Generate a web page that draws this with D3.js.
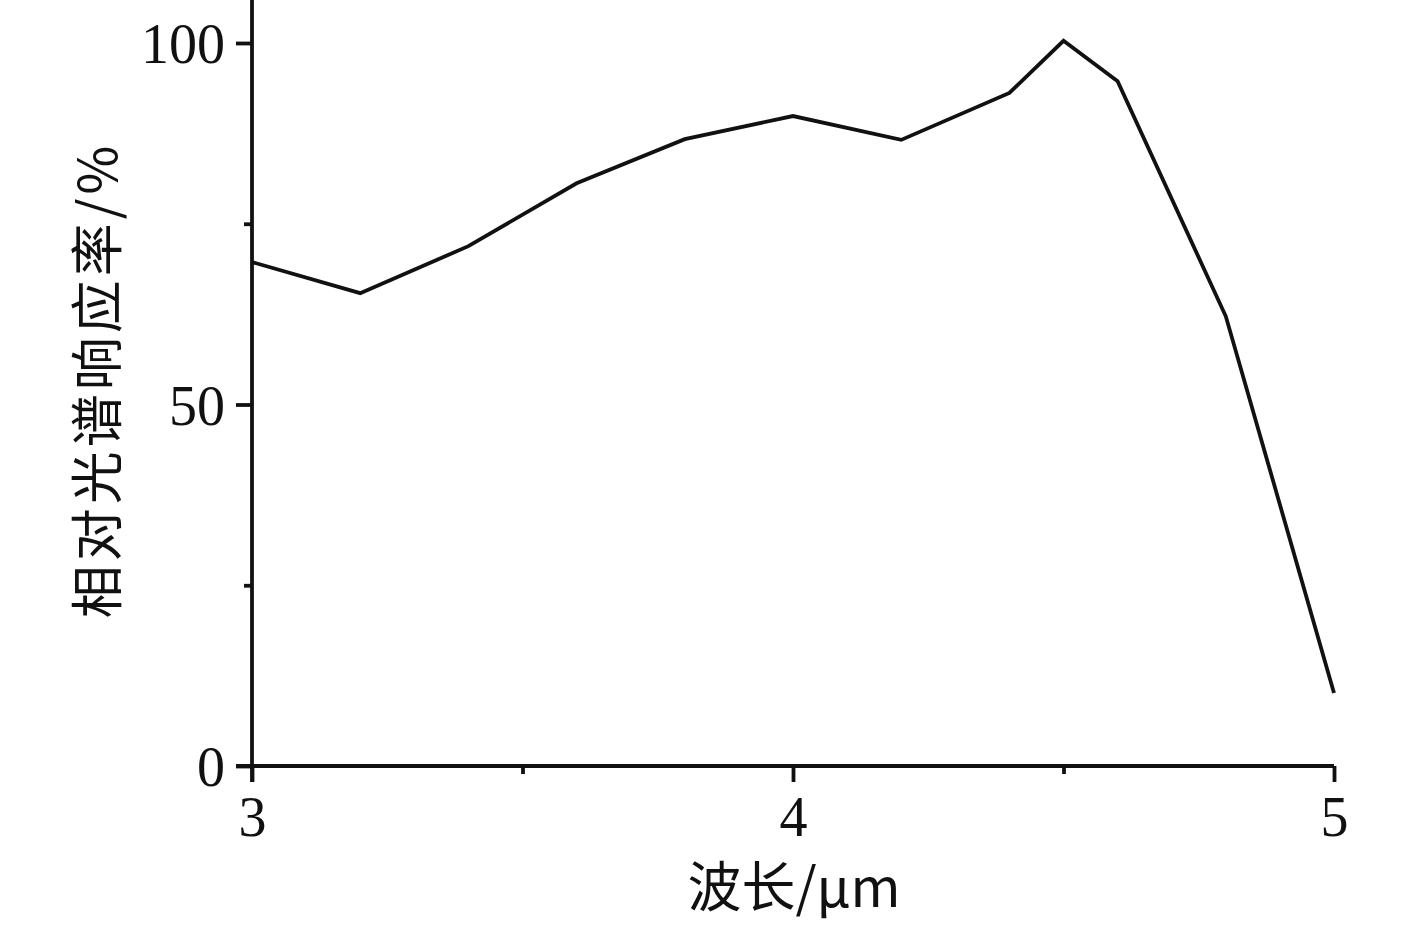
<!DOCTYPE html>
<html><head><meta charset="utf-8">
<script src="https://cdn.jsdelivr.net/npm/d3@7/dist/d3.min.js"></script>
<style>body{margin:0;background:#fff;} svg{display:block;}</style>
</head><body>
<svg id="c" width="1417" height="926"></svg>
<script>
const wavelength = [3.0, 3.2, 3.4, 3.6, 3.8, 4.0, 4.2, 4.4, 4.5, 4.6, 4.8, 5.0];
const response = [69.7, 65.4, 71.9, 80.6, 86.7, 89.9, 86.6, 93.1, 100.3, 94.7, 62.2, 10.1];
const xMajorTicks = [3, 4, 5];
const xMinorTicks = [3.5, 4.5];
const yMajorTicks = [0, 50, 100];
const yMinorTicks = [25, 75];
const xLabel = "波长/μm";
const yLabel = "相对光谱响应率/%";

(function () {
const svg = d3.select("#c");
const mLeft = 252, mRight = 1334, mTop = 43, mBottom = 766;
const x = d3.scaleLinear().domain([3, 5]).range([mLeft, mRight]);
const y = d3.scaleLinear().domain([0, 100]).range([mBottom, mTop]);
const serif = "'Liberation Serif','Times New Roman',serif";
const cjk = "'Noto Sans CJK SC','Liberation Serif',serif";
const sw = 3.8;

const gx = svg.append("g").attr("transform", `translate(0,${mBottom})`);
gx.call(d3.axisBottom(x).tickValues(xMajorTicks).tickSize(16).tickSizeOuter(0).tickFormat(d3.format("d")));
const gxm = svg.append("g").attr("transform", `translate(0,${mBottom})`);
gxm.call(d3.axisBottom(x).tickValues(xMinorTicks).tickSize(8).tickFormat(""));
gxm.select(".domain").remove();

const gy = svg.append("g").attr("transform", `translate(${mLeft},0)`);
gy.call(d3.axisLeft(y).tickValues(yMajorTicks).tickSize(16).tickSizeOuter(0).tickFormat(d3.format("d")));
const gym = svg.append("g").attr("transform", `translate(${mLeft},0)`);
gym.call(d3.axisLeft(y).tickValues(yMinorTicks).tickSize(8).tickFormat(""));
gym.select(".domain").remove();

gy.select(".domain").attr("d", `M0,0V${mBottom + 16}`);
gx.select(".domain").attr("d", `M${mLeft - 16},0H${mRight}`);

svg.selectAll(".domain").attr("stroke", "#111").attr("stroke-width", sw);
svg.selectAll(".tick line").attr("stroke", "#111").attr("stroke-width", sw);

gx.selectAll(".tick text").attr("font-family", serif).attr("font-size", 56).attr("fill", "#111").attr("dy", "0.71em").attr("y", 30);
gy.selectAll(".tick text").attr("font-family", serif).attr("font-size", 56).attr("fill", "#111").attr("x", -27).attr("dy", "0.35em");

const line = d3.line().x((d, i) => x(wavelength[i])).y(d => y(d));
svg.append("path").datum(response).attr("d", line)
  .attr("fill", "none").attr("stroke", "#111").attr("stroke-width", sw).attr("stroke-linejoin", "miter");

svg.append("text").attr("x", 794).attr("y", 907).attr("text-anchor", "middle")
  .attr("font-family", cjk).attr("font-size", 54).attr("fill", "#111")
  .text(xLabel);
svg.append("text").attr("transform", "translate(117,380) rotate(-90)").attr("text-anchor", "middle")
  .attr("font-family", cjk).attr("font-size", 53).attr("letter-spacing", 4).attr("fill", "#111")
  .text(yLabel);
})();
</script>
</body></html>
